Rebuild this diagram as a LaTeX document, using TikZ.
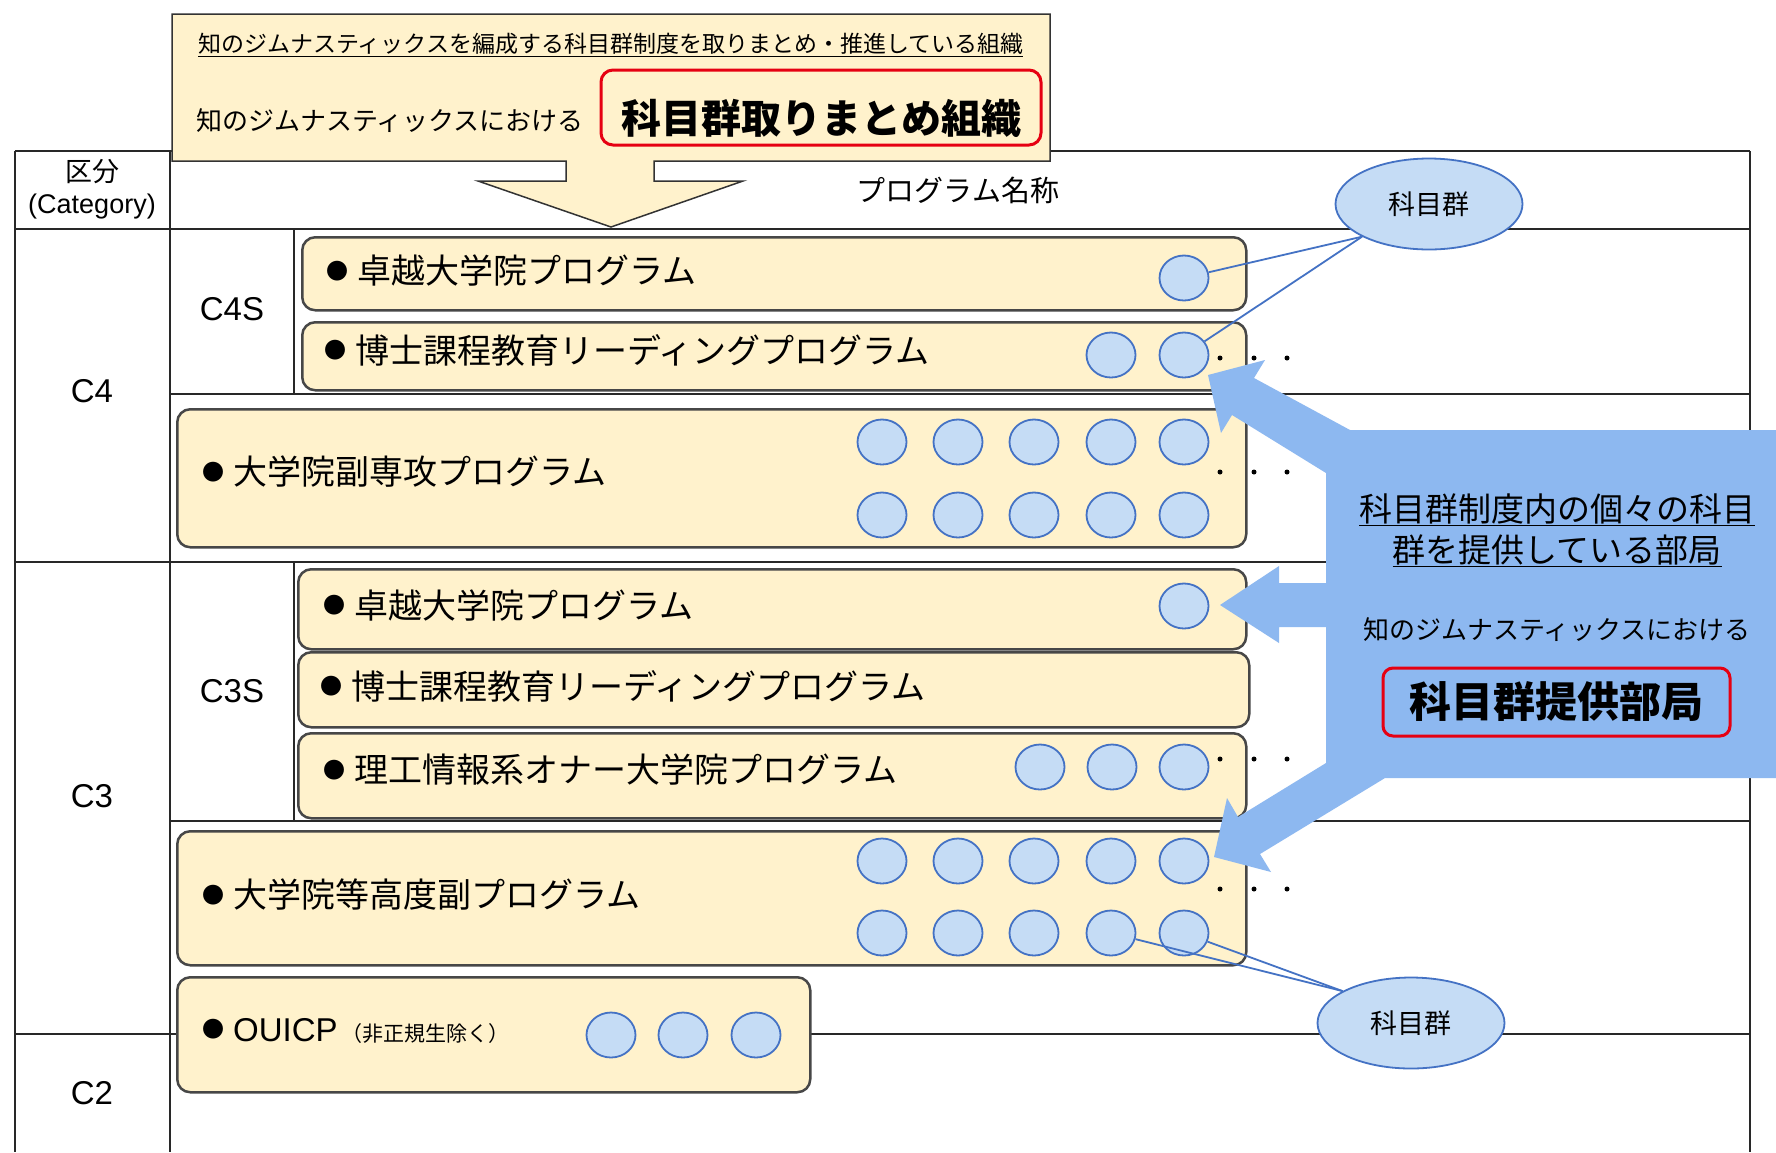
\documentclass[tikz,border=0pt]{standalone}
\usepackage{fontspec}
\usepackage{graphicx}
\setmainfont{Liberation Sans}
\newfontfamily\jp{Noto Sans CJK JP}
\usetikzlibrary{shapes.geometric}
\newcommand{\fsz}[1]{\fontsize{#1}{#1}\selectfont}
\newcommand{\bul}{\raisebox{4.5pt}{\jp\fsz{22}●}\hspace{9pt}}
\definecolor{boxfill}{RGB}{255,242,204}
\definecolor{cfill}{RGB}{197,220,245}
\definecolor{cdraw}{RGB}{68,114,196}
\definecolor{bigblue}{RGB}{141,184,240}
\definecolor{redline}{RGB}{230,0,18}
\definecolor{gridline}{RGB}{40,40,40}
\begin{document}
\begin{tikzpicture}[x=1pt,y=-1pt,
  grid/.style={draw=gridline,line width=2pt},
  prog/.style={draw=black!72,line width=2.5pt,fill=boxfill,rounded corners=13pt,anchor=north west,inner sep=0pt},
  grp/.style={ellipse,draw=cdraw,fill=cfill,line width=1.8pt,minimum width=49pt,minimum height=45pt,inner sep=0pt},
  dotn/.style={circle,fill=black,minimum size=5pt,inner sep=0pt},
  txt/.style={anchor=west,inner sep=0pt,font=\jp\fsz{34}},
  lbl/.style={inner sep=0pt,font=\fsz{33}},
  conn/.style={draw=cdraw,line width=1.8pt},
  kamoku/.style={ellipse,draw=cdraw,fill=cfill,line width=1.8pt,minimum width=187pt,minimum height=91pt,inner sep=0pt,font=\jp\fsz{27}}
]
\useasboundingbox (0,0) rectangle (1776,1152);
\fill[white] (0,0) rectangle (1776,1152);

% table grid
\draw[grid] (15,151) -- (1750,151);
\draw[grid] (15,151) -- (15,1152);
\draw[grid] (1750,151) -- (1750,1152);
\draw[grid] (170,151) -- (170,1152);
\draw[grid] (15,229) -- (1750,229);
\draw[grid] (170,394) -- (1750,394);
\draw[grid] (15,562) -- (1750,562);
\draw[grid] (170,821) -- (1750,821);
\draw[grid] (15,1034) -- (1750,1034);
\draw[grid] (294,229) -- (294,394);
\draw[grid] (294,562) -- (294,821);

% header texts
\node[inner sep=0pt,font=\jp\fsz{27}] (hd1) at (92,172) {区分};
\node[inner sep=0pt,font=\fsz{27}] (hd2) at (92,207) {(Category)};
\node[inner sep=0pt,font=\jp\fsz{29}] (hd3) at (958,190) {プログラム名称};

% category labels
\node[lbl] (lc4s) at (232,309) {C4S};
\node[lbl] (lc4) at (92,391) {C4};
\node[lbl] (lc3s) at (232,691) {C3S};
\node[lbl] (lc3) at (92,796) {C3};
\node[lbl] (lc2) at (92,1093) {C2};

% top box with arrow
\draw[fill=boxfill,draw=black!80,line width=1.5pt]
  (172,14) -- (1050,14) -- (1050,161) -- (654,161) -- (654,181) -- (743,181)
  -- (611,227) -- (478,181) -- (566,181) -- (566,161) -- (172,161) -- cycle;
\node[anchor=west,inner sep=0pt,font=\jp\fsz{23}] (tt1) at (198,45)
  {\underline{知のジムナスティックスを編成する科目群制度を取りまとめ・推進している組織}};
\node[anchor=west,inner sep=0pt,font=\jp\fsz{26}] (tt2) at (196,121) {知のジムナスティックスにおける};
\node[draw=redline,line width=3pt,rounded corners=12pt,fill=boxfill,minimum width=440pt,minimum height=75pt,inner sep=0pt] (rt) at (821,107.5) {};
\node[font=\jp\bfseries\fsz{40},inner sep=0pt] (rtt) at (821,118) {科目群取りまとめ組織};

% program boxes
\node[prog,minimum width=944pt,minimum height=73pt] (p1) at (301,236) {};
\node[prog,minimum width=944pt,minimum height=68pt] (p2) at (301,321) {};
\node[prog,minimum width=1069pt,minimum height=138pt] (p3) at (176,408) {};
\node[prog,minimum width=948pt,minimum height=80pt] (p4) at (297,568) {};
\node[prog,minimum width=951pt,minimum height=75pt] (p5) at (297,651) {};
\node[prog,minimum width=948pt,minimum height=85pt] (p6) at (297,732) {};
\node[prog,minimum width=1069pt,minimum height=134pt] (p7) at (176,830) {};
\node[prog,minimum width=633pt,minimum height=115pt] (p8) at (176,976) {};

\node[txt] (t1) at (326,271) {\bul 卓越大学院プログラム};
\node[txt] (t2) at (324,350) {\bul 博士課程教育リーディングプログラム};
\node[txt] (t3) at (202,472) {\bul 大学院副専攻プログラム};
\node[txt] (t4) at (323,605) {\bul 卓越大学院プログラム};
\node[txt] (t5) at (320,686) {\bul 博士課程教育リーディングプログラム};
\node[txt] (t6) at (323,770) {\bul 理工情報系オナー大学院プログラム};
\node[txt] (t7) at (202,895) {\bul 大学院等高度副プログラム};
\node[txt,font=\fsz{33}] (t8) at (202,1031) {\bul OUICP\hspace{4pt}{\jp\fsz{21}（非正規生除く）}};

% subject-group circles
\node[grp] (c1) at (1184,278) {};
\node[grp] (c2a) at (1111,355) {};
\node[grp] (c2b) at (1184,355) {};
\foreach \x [count=\i] in {882,958,1034,1111,1184} {
  \node[grp] (c3a\i) at (\x,442) {};
  \node[grp] (c3b\i) at (\x,515) {};
  \node[grp] (c7a\i) at (\x,861) {};
  \node[grp] (c7b\i) at (\x,933) {};
}
\node[grp] (c4) at (1184,606) {};
\node[grp] (c6a) at (1040,767) {};
\node[grp] (c6b) at (1112,767) {};
\node[grp] (c6c) at (1184,767) {};
\node[grp] (c8a) at (611,1035) {};
\node[grp] (c8b) at (683,1035) {};
\node[grp] (c8c) at (756,1035) {};

% continuation dots
\foreach \y [count=\j] in {358,472,759,889} {
  \foreach \x [count=\i] in {1220,1254,1287} {
    \node[dotn] (d\j\i) at (\x,\y) {};
  }
}

% "科目群" ellipses and connectors
\node[kamoku] (e1) at (1429,204) {科目群};
\node[kamoku] (e2) at (1411,1023) {科目群};
\draw[conn] (e1.206) -- (c1);
\draw[conn] (e1.206) -- (c2b);
\draw[conn] (e2.155) -- (c7b4);
\draw[conn] (e2.155) -- (c7b5);

% big blue callout with three arrows
\fill[bigblue] (1776,430) -- (1776,778) -- (1385,778) -- (1260,854) -- (1271,872)
  -- (1214,857) -- (1227,798) -- (1238,817) -- (1326,763) -- (1326,627)
  -- (1279,627) -- (1279,643) -- (1220,605) -- (1279,566) -- (1279,583)
  -- (1326,583) -- (1326,473) -- (1232,415) -- (1221,433) -- (1208,375)
  -- (1265,360) -- (1254,378) -- (1350,430) -- cycle;
\node[inner sep=0pt,font=\jp\fsz{33}] (bt1) at (1557,510) {\underline{科目群制度内の個々の科目}};
\node[inner sep=0pt,font=\jp\fsz{33}] (bt2) at (1557,551) {\underline{群を提供している部局}};
\node[inner sep=0pt,font=\jp\fsz{26}] (bt3) at (1557,630) {知のジムナスティックスにおける};
\node[draw=redline,line width=3pt,rounded corners=10pt,minimum width=347pt,minimum height=68pt,inner sep=0pt,font=\jp\bfseries\fsz{42}] (rb) at (1556.5,702) {科目群提供部局};
\end{tikzpicture}
\end{document}
